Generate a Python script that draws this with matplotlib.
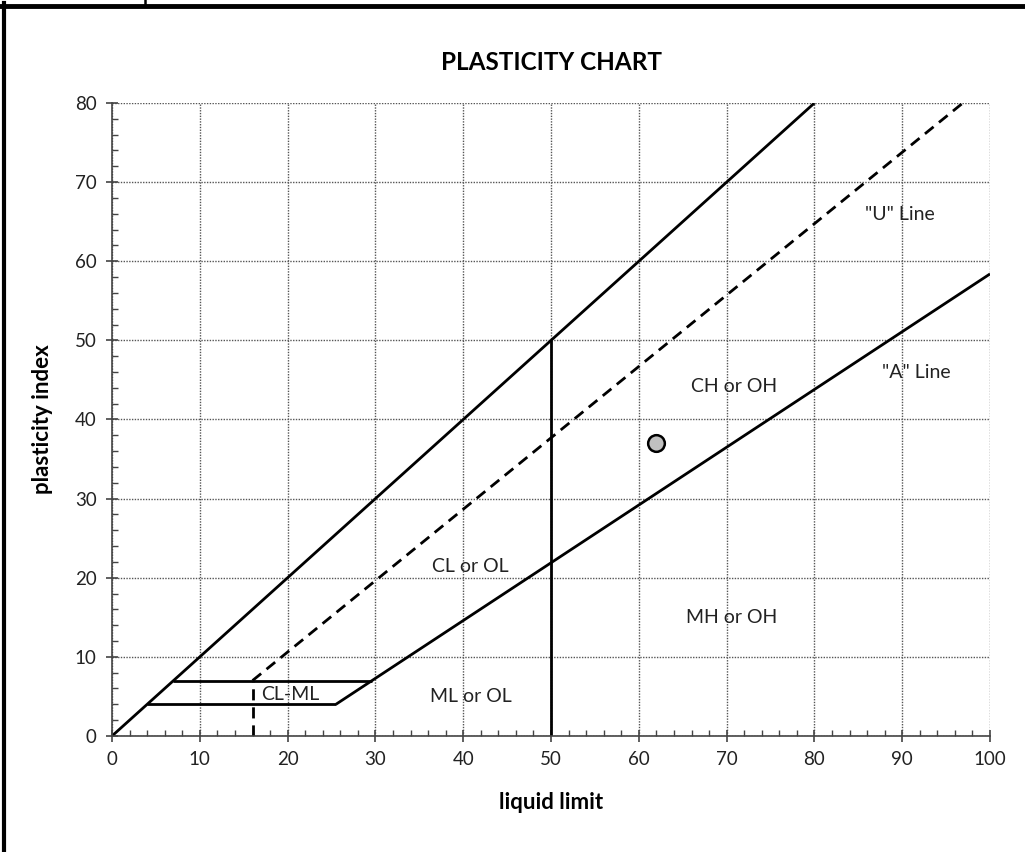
#!/usr/bin/env python
# -*- coding: utf-8 -*-

import matplotlib
matplotlib.use("Agg")
import matplotlib.pyplot as plt
from matplotlib.lines import Line2D
from matplotlib.ticker import MultipleLocator

plt.rcParams["font.family"] = ["Lato", "DejaVu Sans"]

# chart lines (liquid limit, plasticity index)
upper_ll = [0, 80]
upper_pi = [0, 80]
u_ll = [16, 96.9]
u_pi = [7, 80]
a_ll = [25.5, 100]
a_pi = [4, 58.4]
cl_ml_top_ll = [7, 29.6]
cl_ml_top_pi = [7, 7]
cl_ml_bot_ll = [4, 25.5]
cl_ml_bot_pi = [4, 4]
ll50_ll = [50, 50]
ll50_pi = [0, 50]
ll16_ll = [16, 16]
ll16_pi = [0, 7]

# sample
sample_ll = [62]
sample_pi = [37]

# zone labels
zone_names = ['"U" Line', '"A" Line', "CH or OH", "MH or OH", "CL or OL", "ML or OL", "CL-ML"]
zone_ll = [89.7, 91.6, 70.8, 70.6, 40.8, 40.9, 20.3]
zone_pi = [65.9, 46.0, 44.2, 15.0, 21.4, 5.0, 5.2]

fig = plt.figure(figsize=(10.25, 8.52), dpi=100)
ax = fig.add_axes([0.1093, 0.1362, 0.8566, 0.7429])

kw = dict(color="black", lw=2.0, solid_capstyle="butt")
ax.plot(upper_ll, upper_pi, **kw)
ax.plot(a_ll, a_pi, **kw)
ax.plot(cl_ml_top_ll, cl_ml_top_pi, **kw)
ax.plot(cl_ml_bot_ll, cl_ml_bot_pi, **kw)
ax.plot(ll50_ll, ll50_pi, **kw)
ax.plot(u_ll, u_pi, color="black", lw=2.0, ls=(0, (4, 2.5)))
ax.plot(ll16_ll, ll16_pi, color="black", lw=2.0, ls=(0, (4, 2.5)))

ax.plot(sample_ll, sample_pi, "o", ms=12, mfc="#c0c0c0", mec="black", mew=1.8, zorder=5)

for name, x, y in zip(zone_names, zone_ll, zone_pi):
    ax.text(x, y, name, ha="center", va="center", fontsize=14, color="#222222")

ax.set_xlim(0, 100)
ax.set_ylim(0, 80)
ax.xaxis.set_major_locator(MultipleLocator(10))
ax.yaxis.set_major_locator(MultipleLocator(10))
ax.xaxis.set_minor_locator(MultipleLocator(2))
ax.yaxis.set_minor_locator(MultipleLocator(2))
ax.tick_params(which="major", direction="inout", length=8, width=1.2,
               labelsize=13.5, colors="#444444", labelcolor="#222222", pad=7)
ax.tick_params(which="minor", direction="in", length=4, width=1, colors="#444444")
ax.grid(True, which="major", ls=(0, (1, 1)), color="#555555", lw=1)
ax.set_axisbelow(True)
for side in ("top", "right"):
    ax.spines[side].set_visible(False)
for side in ("left", "bottom"):
    ax.spines[side].set_color("#444444")
    ax.spines[side].set_linewidth(1.2)

ax.set_title("PLASTICITY CHART", fontsize=17.5, fontweight="bold", pad=24)
ax.set_xlabel("liquid limit", fontsize=16, fontweight="bold", labelpad=17)
ax.set_ylabel("plasticity index", fontsize=16, fontweight="bold", labelpad=16)

# page frame
fig.add_artist(Line2D([0, 1], [0.9935, 0.9935], color="black", lw=3.5, transform=fig.transFigure))
fig.add_artist(Line2D([0.0039, 0.0039], [0, 0.996], color="black", lw=3, transform=fig.transFigure))
fig.add_artist(Line2D([0.1415, 0.1415], [0.9935, 1], color="black", lw=1.8, transform=fig.transFigure))

fig.savefig("out.png", dpi=100)
